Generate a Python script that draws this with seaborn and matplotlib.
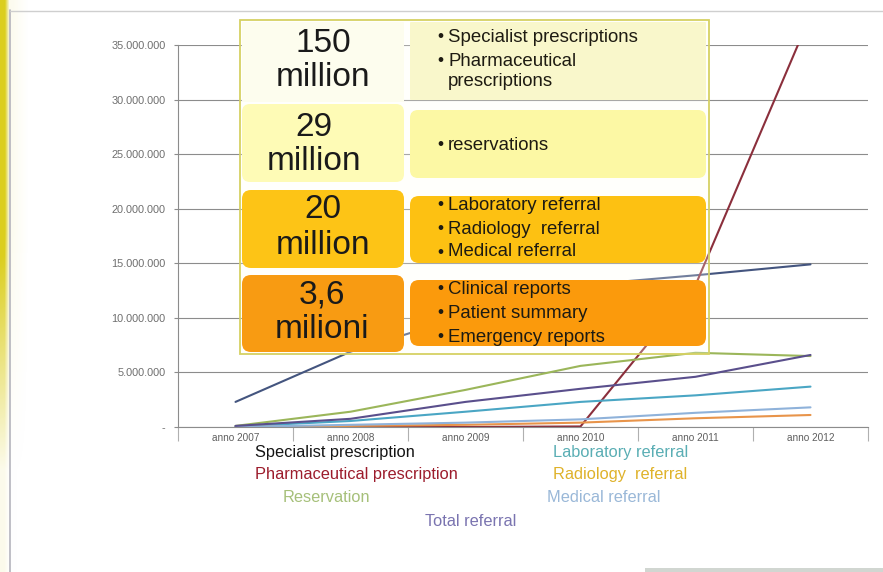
import numpy as np
import pandas as pd
import matplotlib
matplotlib.use("Agg")
import matplotlib.pyplot as plt
import seaborn as sns
from matplotlib.patches import FancyBboxPatch, Rectangle

# ---- data -------------------------------------------------------------
years = ["anno 2007", "anno 2008", "anno 2009", "anno 2010", "anno 2011", "anno 2012"]

specialist = [2_300_000, 6_900_000, 10_200_000, 13_000_000, 13_900_000, 14_900_000]
pharmaceutical = [0, 0, 0, 50_000, 13_000_000, 37_700_000]
reservation = [100_000, 1_400_000, 3_400_000, 5_600_000, 6_800_000, 6_500_000]
laboratory = [50_000, 550_000, 1_400_000, 2_300_000, 2_900_000, 3_700_000]
radiology = [0, 100_000, 200_000, 400_000, 800_000, 1_100_000]
medical = [0, 200_000, 400_000, 700_000, 1_300_000, 1_800_000]
total_ref = [100_000, 750_000, 2_300_000, 3_500_000, 4_600_000, 6_600_000]

series_names = ["Specialist prescription", "Pharmaceutical prescription", "Reservation",
                "Laboratory referral", "Radiology  referral", "Medical referral",
                "Total referral"]
series_values = [specialist, pharmaceutical, reservation, laboratory, radiology,
                 medical, total_ref]

y_ticks = [0, 5_000_000, 10_000_000, 15_000_000, 20_000_000, 25_000_000,
           30_000_000, 35_000_000]
y_tick_labels = ["-", "5.000.000", "10.000.000", "15.000.000", "20.000.000",
                 "25.000.000", "30.000.000", "35.000.000"]

# overlay panel: headline figure and the services it covers
panel_numbers = ["150", "29", "20", "3,6"]
panel_units = ["million", "million", "million", "milioni"]
panel_items = [
    ["• Specialist prescriptions", "• Pharmaceutical", "prescriptions"],
    ["• reservations"],
    ["• Laboratory referral", "• Radiology  referral", "• Medical referral"],
    ["• Clinical reports", "• Patient summary", "• Emergency reports"],
]

# ---- styling ----------------------------------------------------------
line_colors = {
    "Specialist prescription": "#44557f",
    "Pharmaceutical prescription": "#8b2f3c",
    "Reservation": "#9bb65a",
    "Laboratory referral": "#4aa6c4",
    "Radiology  referral": "#e8944a",
    "Medical referral": "#8fb2da",
    "Total referral": "#5a4f8c",
}
label_colors = {
    "Specialist prescription": "#141414",
    "Pharmaceutical prescription": "#9c1c2c",
    "Reservation": "#a6c07a",
    "Laboratory referral": "#5aaeb4",
    "Radiology  referral": "#dfb22a",
    "Medical referral": "#9ab8d8",
    "Total referral": "#7a74b0",
}

sns.set_theme(style="white")
plt.rcParams["font.family"] = ["Liberation Sans", "DejaVu Sans"]

W, H = 883, 572
fig = plt.figure(figsize=(W / 100, H / 100), dpi=100)
fig.patch.set_facecolor("white")

# ---- slide frame decoration (pixel coordinates) -----------------------
bg = fig.add_axes([0, 0, 1, 1], zorder=-5)
bg.set_xlim(0, W)
bg.set_ylim(H, 0)
bg.axis("off")
xs = np.arange(30)[None, :]
ys = np.arange(H)[:, None]
fx = np.where(xs < 4, 1.0, np.clip(1 - (xs - 4) / 5.0, 0, 1)) + 0.12 * np.clip(1 - xs / 28.0, 0, 1)
gy = np.clip(1 - (ys - 230) / 260.0, 0.08, 1.0)
rgba = np.zeros((H, 30, 4))
rgba[..., 0] = 0.86
rgba[..., 1] = 0.81
rgba[..., 2] = 0.12
rgba[..., 3] = np.clip(fx * gy, 0, 1)
bg.imshow(rgba, extent=[0, 30, H, 0], aspect="auto", interpolation="bilinear")
bg.plot([10, 10], [10, H], color="#b4b4bc", lw=1.2)
bg.plot([10, W], [11, 11], color="#cfcfcf", lw=1.0)
bg.add_patch(Rectangle((645, 568), W - 645, 4, color="#9aa49a", alpha=0.45, lw=0))

# ---- chart -------------------------------------------------------------
ax = fig.add_axes([178 / W, 1 - 427 / H, (868 - 178) / W, (427 - 45) / H])
ax.set_facecolor("none")

df = pd.DataFrame({
    "year": years * len(series_names),
    "series": np.repeat(series_names, len(years)),
    "value": np.concatenate(series_values),
})
sns.lineplot(data=df, x="year", y="value", hue="series", hue_order=series_names,
             palette=line_colors, sort=False, legend=False, linewidth=1.5, ax=ax)

ax.set_xlim(-0.5, len(years) - 0.5)
ax.set_ylim(0, 35_000_000)
ax.set_xlabel("")
ax.set_ylabel("")

ax.set_yticks(y_ticks)
ax.set_yticklabels(y_tick_labels)
ax.set_xticks(range(len(years)))
ax.set_xticklabels(years)
ax.set_xticks(np.arange(-0.5, len(years), 1.0), minor=True)

grid_col = "#8c8c8c"
ax.yaxis.grid(True, color=grid_col, lw=0.8)
ax.xaxis.grid(False)
ax.set_axisbelow(True)
for side in ("top", "right"):
    ax.spines[side].set_visible(False)
for side in ("left", "bottom"):
    ax.spines[side].set_color(grid_col)
    ax.spines[side].set_linewidth(0.8)

ax.tick_params(axis="y", which="major", left=True, length=3, width=0.8, color=grid_col,
               labelsize=7.8, labelcolor="#6e6e6e", pad=6)
ax.tick_params(axis="x", which="major", bottom=False, length=0, labelsize=7.2,
               labelcolor="#5e5e5e", pad=4)
ax.tick_params(axis="x", which="minor", bottom=True, length=10, width=0.8, color="#b0b0b0")

# ---- overlay panel and text labels (pixel coordinates) ----------------
ov = fig.add_axes([0, 0, 1, 1], zorder=5)
ov.set_xlim(0, W)
ov.set_ylim(H, 0)
ov.axis("off")
ov.patch.set_alpha(0)

ov.add_patch(Rectangle((240, 20), 469, 334, facecolor="#fffff4", alpha=0.25,
                       edgecolor="none"))
ov.add_patch(Rectangle((240, 20), 469, 334, facecolor="none", edgecolor="#d6d163", lw=1.3))

left_cells = [(242, 22, 162, 80), (242, 104, 162, 78), (242, 190, 162, 78), (242, 275, 162, 77)]
right_cells = [(410, 22, 296, 78), (410, 110, 296, 68), (410, 196, 296, 67), (410, 280, 296, 66)]
left_fill = ["#fdfdee", "#fefbb6", "#fdc416", "#f89b12"]
right_fill = ["#f9f7cb", "#fcf8a4", "#fdc112", "#fb9a0c"]
rounding = [1, 8, 9, 9]

for (x, y, w, h), fc, r in zip(left_cells, left_fill, rounding):
    ov.add_patch(FancyBboxPatch((x, y), w, h, boxstyle=f"round,pad=0,rounding_size={r}",
                                facecolor=fc, edgecolor="none"))
for (x, y, w, h), fc, r in zip(right_cells, right_fill, rounding):
    ov.add_patch(FancyBboxPatch((x, y), w, h, boxstyle=f"round,pad=0,rounding_size={r}",
                                facecolor=fc, edgecolor="none"))

number_pos = [(323, 43, 78), (314, 127, 162), (323, 210, 245), (322, 295, 330)]
for num, unit, (cx, ny, uy) in zip(panel_numbers, panel_units, number_pos):
    ov.text(cx, ny, num, ha="center", va="center", fontsize=24, color="#1a1a1a")
    ov.text(cx, uy, unit, ha="center", va="center", fontsize=24, color="#1a1a1a")

item_rows = [[37, 61, 81], [145], [205, 229, 252], [289, 313, 337]]
for items, rows in zip(panel_items, item_rows):
    for txt, yy in zip(items, rows):
        body = txt[2:] if txt.startswith("• ") else txt
        if txt.startswith("• "):
            ov.text(437, yy, "•", ha="left", va="center", fontsize=12.5, color="#1e1b12")
        ov.text(448, yy, body, ha="left", va="center", fontsize=13.4, color="#1e1b12")

# series labels under the chart
label_pos = {
    "Specialist prescription": (255, 453),
    "Pharmaceutical prescription": (255, 475),
    "Reservation": (283, 497),
    "Laboratory referral": (553, 453),
    "Radiology  referral": (553, 475),
    "Medical referral": (547, 497),
    "Total referral": (425, 521),
}
for name in series_names:
    lx, ly = label_pos[name]
    ov.text(lx, ly, name, ha="left", va="center", fontsize=11.8, color=label_colors[name])

fig.savefig("out.png", dpi=100, facecolor="white")
